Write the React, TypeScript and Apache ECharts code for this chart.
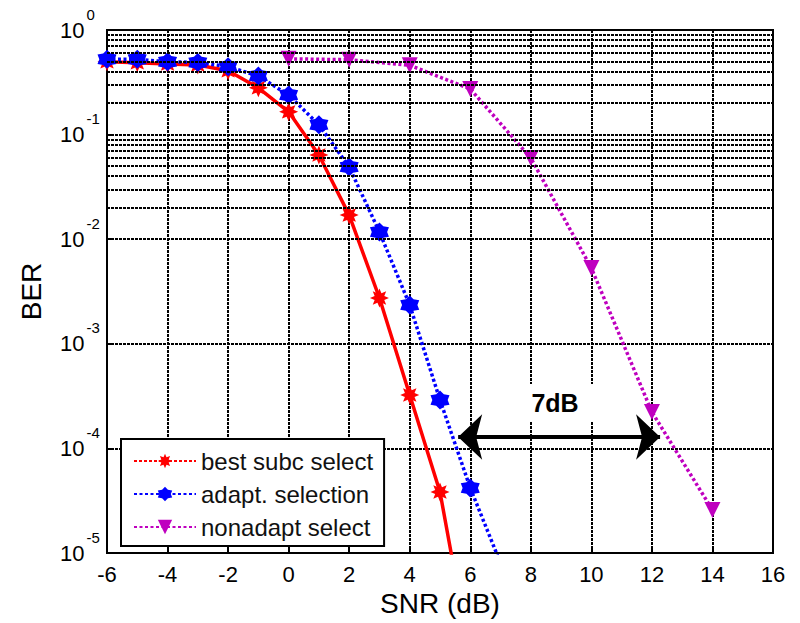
import React, { useEffect, useRef } from "react";
import * as echarts from "echarts";

const redX = [-6, -5, -4, -3, -2, -1, 0, 1, 2, 3, 4, 5, 6];
const redY = [0.497, 0.487, 0.473, 0.463, 0.408, 0.28, 0.165, 0.0638, 0.017, 0.00274, 3.24e-4, 3.83e-5, 1.0e-6];

const blueX = [-6, -5, -4, -3, -2, -1, 0, 1, 2, 3, 4, 5, 6, 7];
const blueY = [0.524, 0.524, 0.497, 0.49, 0.446, 0.363, 0.239, 0.124, 0.049, 0.0117, 0.00235, 2.9e-4, 4.18e-5, 8.0e-6];

const magX = [0, 2, 4, 6, 8, 10, 12, 14];
const magY = [0.53, 0.52, 0.46, 0.273, 0.0597, 0.0053, 2.23e-4, 2.58e-5];

const seriesNames = ["best subc select", "adapt. selection", "nonadapt select"];
const xTicks = { min: -6, max: 16, interval: 2 };
const yRange = { min: 1e-5, max: 1 };
const minorMultipliers = [2, 3, 4, 5, 6, 7, 8, 9];
const minorDecades = [-5, -4, -3, -2, -1];

const arrowY = 1.285e-4;
const arrowX = [5.6, 12.27];
const labelPos = [8.8, 2.72e-4];
const labelText = "7dB";

function starPath(n: number, ro: number, ri: number): string {
  const pts: string[] = [];
  for (let i = 0; i < n * 2; i++) {
    const r = i % 2 === 0 ? ro : ri;
    const a = (Math.PI * i) / n - Math.PI / 2;
    pts.push(`${(r * Math.cos(a)).toFixed(2)} ${(r * Math.sin(a)).toFixed(2)}`);
  }
  return "path://M" + pts.join(" L") + " Z";
}

const redSymbol = starPath(8, 10, 5.5);
const blueSymbol = starPath(6, 10, 7);

const pairs = (xs: number[], ys: number[]) => xs.map((x, i) => [x, ys[i]]);

export default function App() {
  const ref = useRef<HTMLDivElement>(null);
  useEffect(() => {
    if (!ref.current) return;
    const chart = echarts.init(ref.current, null, { renderer: "svg" });
    const minorLines: any[] = [];
    minorDecades.forEach((d) => {
      minorMultipliers.forEach((m) => minorLines.push({ yAxis: m * Math.pow(10, d) }));
    });
    const font = "Liberation Sans, Arial, sans-serif";
    const gridStyle = { color: "#000", type: [3, 1], width: 2, opacity: 1 };
    chart.setOption({
      animation: false,
      backgroundColor: "#fff",
      textStyle: { fontFamily: font },
      grid: {
        left: 107,
        right: 27,
        top: 30,
        bottom: 70,
        show: true,
        borderColor: "#000",
        borderWidth: 2,
        backgroundColor: "transparent",
      },
      xAxis: {
        type: "value",
        min: xTicks.min,
        max: xTicks.max,
        interval: xTicks.interval,
        name: "SNR (dB)",
        nameLocation: "middle",
        nameGap: 36,
        nameTextStyle: { fontSize: 28, color: "#000", fontFamily: font },
        axisLine: { show: true, onZero: false, lineStyle: { color: "#000", width: 2 } },
        axisTick: { show: true, inside: true, length: 5, lineStyle: { color: "#000", width: 2 } },
        axisLabel: { fontSize: 22, color: "#000", margin: 10, fontFamily: font },
        splitLine: { show: true, lineStyle: gridStyle },
      },
      yAxis: {
        type: "log",
        logBase: 10,
        min: yRange.min,
        max: yRange.max,
        name: "BER",
        nameLocation: "middle",
        nameGap: 62,
        nameRotate: 90,
        nameTextStyle: { fontSize: 28, color: "#000", fontFamily: font },
        axisLine: { show: true, onZero: false, lineStyle: { color: "#000", width: 2 } },
        axisTick: { show: true, inside: true, length: 5, lineStyle: { color: "#000", width: 2 } },
        axisLabel: {
          color: "#000",
          align: "left",
          margin: 47,
          formatter: (v: number) => {
            const e = Math.round(Math.log10(v));
            return `{b|10}{e|${e}}`;
          },
          rich: {
            b: { fontSize: 22, color: "#000", fontFamily: font },
            e: { fontSize: 15, color: "#000", fontFamily: font, padding: [0, 0, 32, 2] },
          },
        },
        splitLine: { show: true, lineStyle: gridStyle },
      },
      legend: {
        orient: "vertical",
        left: 121,
        top: 439,
        backgroundColor: "#fff",
        borderColor: "#000",
        borderWidth: 2,
        padding: [10, 11, 7, 12],
        itemWidth: 62,
        itemHeight: 18,
        itemGap: 9,
        textStyle: { fontSize: 24, color: "#111", fontFamily: font, lineHeight: 23 },
        data: [
          { name: seriesNames[0], lineStyle: { type: [3, 2] } },
          { name: seriesNames[1] },
          { name: seriesNames[2] },
        ],
      },
      series: [
        {
          name: "minor",
          type: "line",
          data: [],
          z: 1,
          silent: true,
          markLine: {
            silent: true,
            symbol: ["none", "none"],
            label: { show: false },
            lineStyle: gridStyle,
            emphasis: { disabled: true },
            data: minorLines,
          },
        },
        {
          name: seriesNames[0],
          type: "line",
          data: pairs(redX, redY),
          z: 3,
          color: "#ff0000",
          lineStyle: { color: "#ff0000", width: 3.5, type: "solid" },
          symbol: redSymbol,
          symbolSize: 19,
          itemStyle: { color: "#ff0000" },
          clip: true,
        },
        {
          name: seriesNames[1],
          type: "line",
          data: pairs(blueX, blueY),
          z: 3,
          color: "#0000ff",
          lineStyle: { color: "#0000ff", width: 3.5, type: [3, 2.5] },
          symbol: blueSymbol,
          symbolSize: 19,
          itemStyle: { color: "#0000ff" },
          clip: true,
        },
        {
          name: seriesNames[2],
          type: "line",
          data: pairs(magX, magY),
          z: 3,
          color: "#bf00bf",
          lineStyle: { color: "#bf00bf", width: 3.5, type: [3, 2.5] },
          symbol: "triangle",
          symbolRotate: 180,
          symbolSize: 16,
          itemStyle: { color: "#bf00bf" },
          clip: true,
        },
        {
          name: "annotation",
          type: "line",
          data: [],
          z: 5,
          silent: true,
          markLine: {
            silent: true,
            symbol: ["arrow", "arrow"],
            symbolSize: [34, 24],
            label: { show: false },
            lineStyle: { color: "#000", width: 4, type: "solid" },
            data: [[{ coord: [arrowX[0], arrowY] }, { coord: [arrowX[1], arrowY] }]],
          },
          markPoint: {
            silent: true,
            data: [
              {
                coord: labelPos,
                symbol: "rect",
                symbolSize: [87, 38],
                itemStyle: { color: "#fff" },
                label: {
                  show: true,
                  position: "inside",
                  formatter: labelText,
                  fontSize: 25,
                  fontWeight: "bold",
                  color: "#000",
                  fontFamily: font,
                },
              },
            ],
          },
        },
      ],
    });
    return () => chart.dispose();
  }, []);
  return (
    <div
      ref={ref}
      style={{ position: "fixed", left: 0, top: 0, width: 800, height: 623, background: "#fff" }}
    />
  );
}
